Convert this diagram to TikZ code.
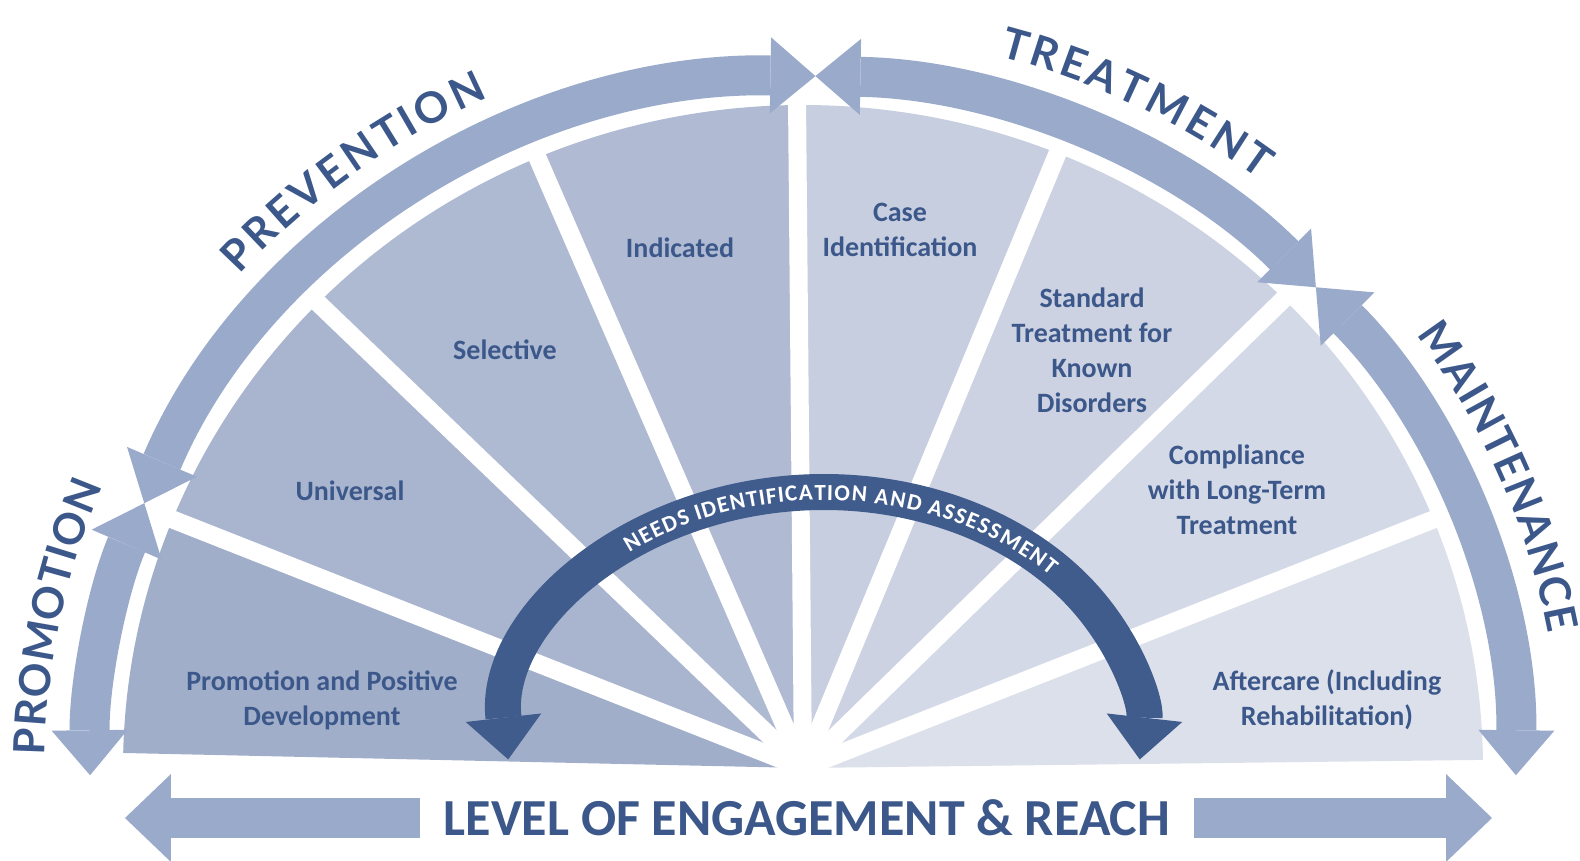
\documentclass[tikz,border=0pt]{standalone}
\usepackage{fontspec}
\setmainfont{Carlito}
\newfontfamily\arcfont{Lato}
\usetikzlibrary{decorations.text,arrows.meta}
\definecolor{Engblue}{RGB}{60,88,138}
\definecolor{Engdark}{RGB}{64,92,141}
\definecolor{Engband}{RGB}{154,170,202}
\definecolor{Fanpromo}{RGB}{160,174,201}
\definecolor{Fanuniv}{RGB}{169,181,207}
\definecolor{Fansel}{RGB}{174,186,210}
\definecolor{Fanind}{RGB}{176,187,211}
\definecolor{Fancase}{RGB}{199,206,223}
\definecolor{Fanstd}{RGB}{204,210,226}
\definecolor{Fancomp}{RGB}{212,217,231}
\definecolor{Fanafter}{RGB}{220,224,235}
\newcommand{\fanwedge}[3]{
    \fill[#1] (0,0) -- (#2:680 and 663) arc [start angle=#2, end angle=#3, x radius=680, y radius=663] -- cycle;
}
\newcommand{\arclabel}[3]{
    \path[decorate, decoration={text effects along path, text={#3}, text effects/.cd, text along path, fit text to path, characters={text=Engblue, font=\arcfont\bfseries\fontsize{43}{43}\selectfont}}] (#1:758 and 737) arc [start angle=#1, end angle=#2, x radius=758, y radius=737];
}

\begin{document}
\begin{tikzpicture}[x=1pt, y=1pt,
    lbl/.style={text=Engblue, font=\bfseries\fontsize{28}{35}\selectfont, align=center},
    gap/.style={white, line width=18pt},
    band/.style={draw=Engband, line width=40pt, >={Triangle[length=45pt, width=76pt, line width=0pt]}, <->},
    needs/.style={draw=Engdark, line width=36pt, >={Triangle[length=42pt, width=76pt, line width=0pt]}, <->},
    reach/.style={draw=Engband, line width=40pt, >={Triangle[length=46pt, width=88pt, line width=0pt]}, <->}]
\useasboundingbox (-803,-92) rectangle (777,768);
%Fan
\fanwedge{Fanpromo}{178.7}{158}
\fanwedge{Fanuniv}{158}{135.5}
\fanwedge{Fansel}{135.5}{113}
\fanwedge{Fanind}{113}{90.5}
\fanwedge{Fancase}{90.5}{68}
\fanwedge{Fanstd}{68}{45}
\fanwedge{Fancomp}{45}{22}
\fanwedge{Fanafter}{22}{0.7}
%Gaps
\draw[gap] (0,0) -- (158:700 and 683);
\draw[gap] (0,0) -- (135.5:700 and 683);
\draw[gap] (0,0) -- (113:700 and 683);
\draw[gap] (0,0) -- (90.5:700 and 683);
\draw[gap] (0,0) -- (68:700 and 683);
\draw[gap] (0,0) -- (45:700 and 683);
\draw[gap] (0,0) -- (22:700 and 683);
%Sector labels
\node[lbl] (promo) at (-481,68) {Promotion and Positive\\Development};
\node[lbl] (univ) at (-453,277) {Universal};
\node[lbl] (sel) at (-298,418) {Selective};
\node[lbl] (ind) at (-123,520) {Indicated};
\node[lbl] (case) at (97,538) {Case\\Identification};
\node[lbl] (std) at (289,418) {Standard\\Treatment for\\Known\\Disorders};
\node[lbl] (comp) at (434,278) {Compliance\\with Long-Term\\Treatment};
\node[lbl] (after) at (524,68) {Aftercare (Including\\Rehabilitation)};
%Outer arrows
\draw[band] (180.6:713 and 692) arc [start angle=180.6, end angle=157.5, x radius=713, y radius=692];
\draw[band] (157.5:713 and 692) arc [start angle=157.5, end angle=89, x radius=713, y radius=692];
\draw[band] (89:713 and 692) arc [start angle=89, end angle=44, x radius=713, y radius=692];
\draw[band] (44:713 and 692) arc [start angle=44, end angle=-0.6, x radius=713, y radius=692];
\arclabel{179}{157.5}{PROMOTION}
\arclabel{138}{114.5}{PREVENTION}
\arclabel{75}{53}{TREATMENT}
\arclabel{36}{10.5}{MAINTENANCE}
%Needs arrow
\draw[needs, shift={(21,30)}] (185:317 and 246) arc [start angle=185, end angle=-5, x radius=317, y radius=246];
\path[decorate, decoration={text effects along path, text={NEEDS IDENTIFICATION AND ASSESSMENT}, text effects/.cd, text along path, fit text to path, characters={text=white, font=\bfseries\fontsize{23}{23}\selectfont}}, shift={(21,30)}] (129:309 and 238) arc [start angle=129, end angle=43, x radius=309, y radius=238];
%Engagement arrow
\coordinate (lend) at (-678,-50);
\coordinate (rend) at (689,-50);
\draw[reach] (lend) -- (rend);
\node[fill=white, text=Engblue, font=\bfseries\fontsize{52}{52}\selectfont, inner xsep=24pt, inner ysep=6pt] (reachtxt) at (4,-50) {LEVEL OF ENGAGEMENT \& REACH};
\end{tikzpicture}
\end{document}
